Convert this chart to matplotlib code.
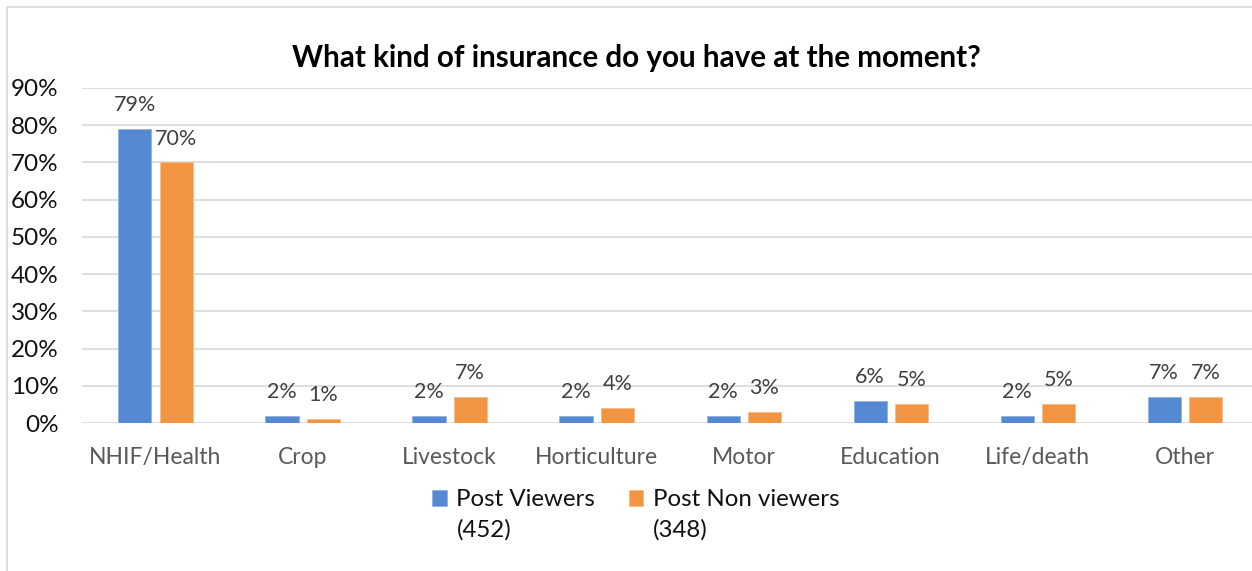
import numpy as np
import matplotlib.pyplot as plt
from matplotlib.patches import Rectangle

categories = ['NHIF/Health', 'Crop', 'Livestock', 'Horticulture', 'Motor',
              'Education', 'Life/death', 'Other']
viewers = [0.79, 0.02, 0.02, 0.02, 0.02, 0.06, 0.02, 0.07]
non_viewers = [0.70, 0.01, 0.07, 0.04, 0.03, 0.05, 0.05, 0.07]
series_names = ['Post Viewers', 'Post Non viewers']
series_counts = ['(452)', '(348)']
yticks = np.arange(0, 0.91, 0.1)

plt.rcParams['font.family'] = ['Lato', 'DejaVu Sans']

fig = plt.figure(figsize=(12.52, 5.71), dpi=100)
ax = fig.add_axes([82 / 1252, 1 - 423 / 571, 1 - 82 / 1252 + 0.005, (423 - 88) / 571])

# figure frame (only top/left visible in the original crop)
fig.patches.append(Rectangle((7 / 1252, -0.1), 1.2, 1 - 7 / 571 + 0.1,
                             transform=fig.transFigure, fill=False,
                             edgecolor='#d9d9d9', lw=1.2))

x = np.arange(len(categories))
w = 0.225
off = 0.14
b1 = ax.bar(x - off, viewers, w, color='#558ad3', edgecolor='#8fb2e3', lw=0.6,
            label=series_names[0], zorder=3)
b2 = ax.bar(x + off, non_viewers, w, color='#f29441', edgecolor='#f7bd8a', lw=0.6,
            label=series_names[1], zorder=3)

for bars in (b1, b2):
    for r in bars:
        ax.annotate(f'{r.get_height() * 100:.0f}%',
                    (r.get_x() + r.get_width() / 2, r.get_height()),
                    xytext=(0, 10), textcoords='offset points',
                    ha='center', va='bottom', fontsize=15.5, color='#404040')

ax.set_xlim(-0.5, len(categories) - 0.5)
ax.set_ylim(0, 0.9)
ax.set_yticks(yticks)
ax.set_yticklabels([f'{v * 100:.0f}%' for v in yticks])
ax.set_xticks(x)
ax.set_xticklabels(categories)
ax.tick_params(axis='x', length=0, labelsize=16.5, colors='#595959', pad=17)
ax.tick_params(axis='y', length=0, labelsize=17.5, colors='#111111', pad=17)
ax.grid(axis='y', color='#d9d9d9', lw=1.2, zorder=0)
for s in ax.spines.values():
    s.set_visible(False)

fig.text(0.508, 1 - 58 / 571, 'What kind of insurance do you have at the moment?',
         ha='center', va='center', fontsize=21.3, fontweight='bold', color='black')

leg = fig.legend(loc='center', bbox_to_anchor=(0.508, 1 - 500 / 571), ncol=2,
                 frameon=False, fontsize=17.3, handlelength=0.6, handleheight=0.6,
                 handletextpad=0.4, columnspacing=1.4)
for t in leg.get_texts():
    t.set_color('#111111')

# second line of each legend entry sits under its first line
fig.canvas.draw()
inv = fig.transFigure.inverted()
for t, cnt in zip(leg.get_texts(), series_counts):
    bb = t.get_window_extent()
    x0, y0 = inv.transform((bb.x0, bb.y0))
    fig.text(x0, y0 - 9 / 571, cnt, ha='left', va='top', fontsize=17.3,
             color='#111111')

fig.savefig('out.png', dpi=100)
